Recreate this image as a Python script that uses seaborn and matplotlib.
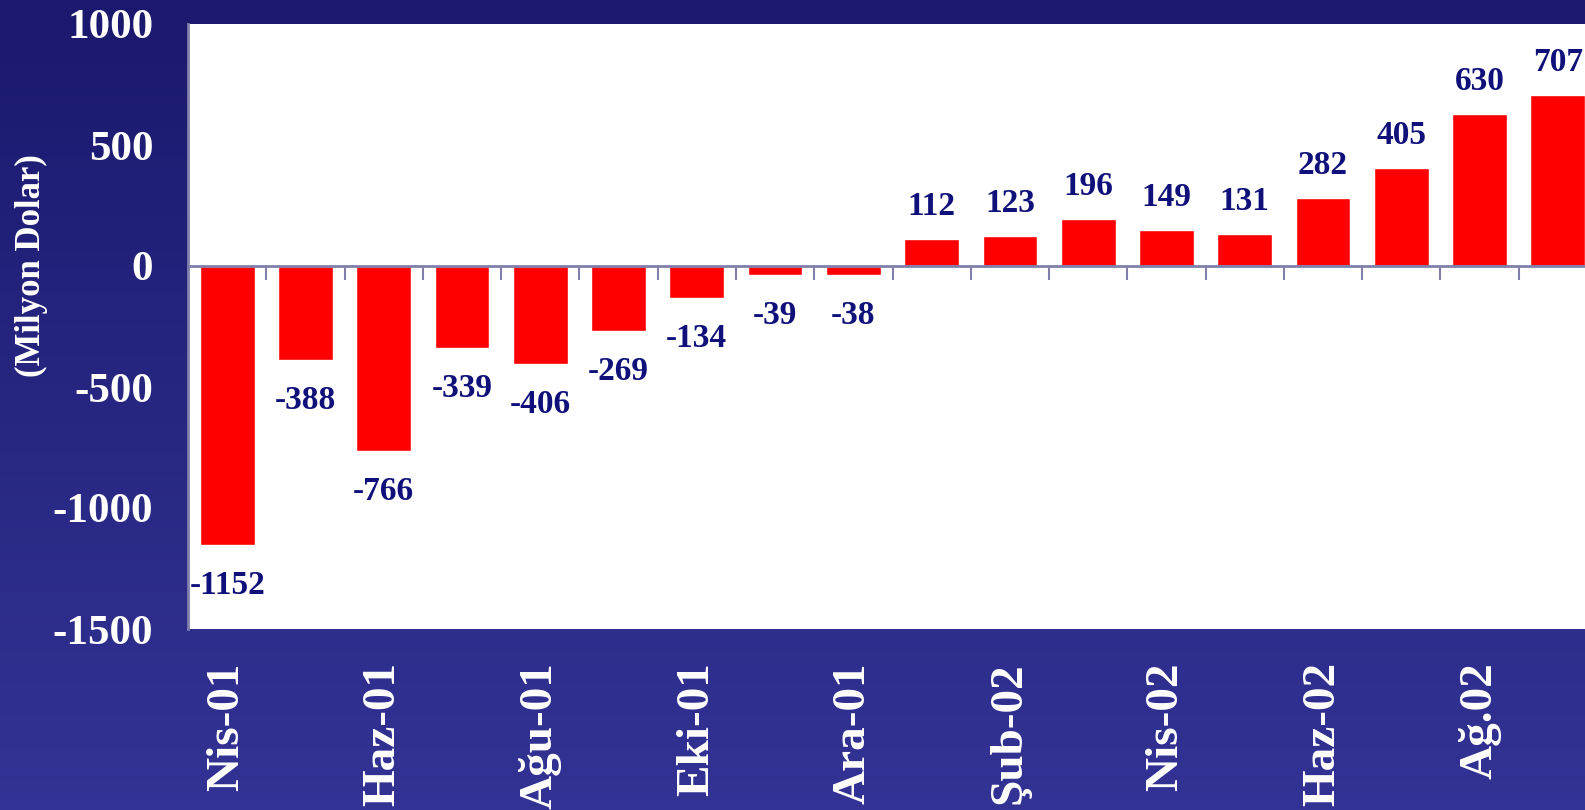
import numpy as np
import pandas as pd
import matplotlib
matplotlib.use('Agg')
import matplotlib.pyplot as plt
from matplotlib.colors import LinearSegmentedColormap
import seaborn as sns

months = ['Nis-01', 'May-01', 'Haz-01', 'Tem-01', 'Ağu-01', 'Eyl-01', 'Eki-01', 'Kas-01', 'Ara-01',
          'Oca-02', 'Şub-02', 'Mar-02', 'Nis-02', 'May-02', 'Haz-02', 'Tem-02', 'Ağ.02', 'Eyl-02']
balance = [-1152, -388, -766, -339, -406, -269, -134, -39, -38,
           112, 123, 196, 149, 131, 282, 405, 630, 707]
y_ticks = [-1500, -1000, -500, 0, 500, 1000]

df = pd.DataFrame({'Ay': months, 'Deger': balance})

sns.set_style('white')
plt.rcParams['font.family'] = ['Liberation Serif', 'DejaVu Serif']
plt.rcParams['font.weight'] = 'bold'

navy = '#10107a'
axis_col = '#8080aa'

fig = plt.figure(figsize=(15.85, 8.10), dpi=100)

# gradient backdrop
bg = fig.add_axes([0, 0, 1, 1])
grad = np.linspace(0, 1, 256).reshape(-1, 1)
cmap = LinearSegmentedColormap.from_list('bgblue', ['#1a196e', '#333395'])
bg.imshow(grad, aspect='auto', cmap=cmap, extent=[0, 1, 0, 1], origin='upper')
bg.axis('off')

ax = fig.add_axes([188 / 1585, 181 / 810, 1409 / 1585, 605 / 810])
ax.set_facecolor('white')
sns.barplot(data=df, x='Ay', y='Deger', color='#ff0000', saturation=1, width=0.7, ax=ax)

ax.set_ylim(-1500, 1000)
ax.set_xlim(-0.5, len(months) - 0.5)
ax.set_yticks(y_ticks)
ax.set_yticklabels([str(t) for t in y_ticks])
ax.tick_params(axis='y', colors=axis_col, direction='out', length=10, width=1.5, pad=15,
               labelsize=31, labelcolor='white')

shown = [m if i % 2 == 0 else '' for i, m in enumerate(months)]
ax.set_xticks(range(len(months)))
ax.set_xticklabels(shown, rotation=90, va='top', ha='center')
ax.tick_params(axis='x', length=0, pad=24, labelsize=34, labelcolor='white')

for s in ['top', 'right', 'bottom']:
    ax.spines[s].set_visible(False)
ax.spines['left'].set_color(axis_col)
ax.spines['left'].set_linewidth(2)

# zero line with category separators pointing down
ax.axhline(0, color=axis_col, lw=2, zorder=3)
ymin, ymax = ax.get_ylim()
zero_ax = ax.secondary_xaxis((0 - ymin) / (ymax - ymin))
zero_ax.set_xticks(np.arange(0.5, len(months) - 1, 1.0))
zero_ax.set_xticklabels([])
zero_ax.tick_params(axis='x', direction='in', length=10, width=1.5, color=axis_col)
for s in zero_ax.spines.values():
    s.set_visible(False)

ax.set_xlabel('')
ax.set_ylabel('(Milyon Dolar)', color='white', fontsize=25, fontweight='bold')
ax.yaxis.set_label_coords(-140 / 1409, 0.6)

for i, v in enumerate(balance):
    off = 17 if v > 0 else -25
    ax.annotate(str(v), (i, v), xytext=(0, off * 0.72), textcoords='offset points',
                ha='center', va='bottom' if v > 0 else 'top',
                color=navy, fontsize=24, fontweight='bold')

fig.savefig('out.png', dpi=100)
